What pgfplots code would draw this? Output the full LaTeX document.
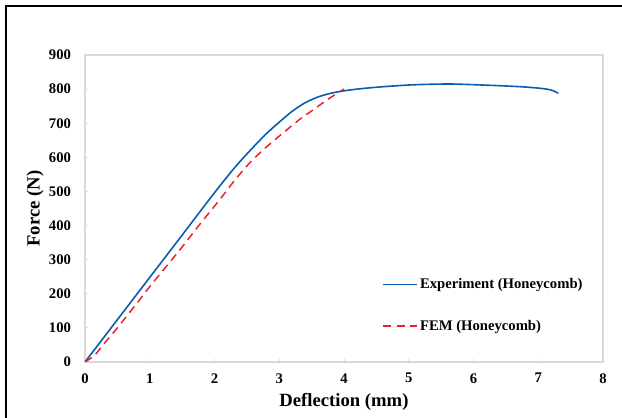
\documentclass[border=0pt]{standalone}
\usepackage{pgfplots}
\pgfplotsset{compat=1.18}
\usepackage{fontspec}
\setmainfont{Liberation Serif}
\definecolor{expblue}{RGB}{10,92,175}
\definecolor{femred}{RGB}{235,30,40}
\definecolor{axgray}{RGB}{217,217,217}
\begin{document}
\begin{tikzpicture}
% page = 622x418 px at 0.75pt per px, plot area corner at (0,0)
\useasboundingbox (-63.75pt,-42pt) rectangle (402.75pt,271.5pt);
\draw[line width=1.1pt] (-59.25pt,-50pt) -- (-59.25pt,267pt) -- (420pt,267pt);
\begin{axis}[
    at={(0,0)}, anchor=south west,
    scale only axis,
    width=388.5pt, height=230.25pt,
    xmin=0, xmax=8, ymin=0, ymax=900,
    xtick={0,1,...,8}, ytick={0,100,...,900},
    axis line style={axgray, line width=1.5pt},
    tick style={axgray, line width=0.6pt},
    tick align=inside, major tick length=2.5pt,
    xtick pos=bottom, ytick pos=left,
    ticklabel style={font=\fontsize{11}{13}\selectfont\bfseries},
    /pgf/number format/assume math mode=true,
    yticklabel style={xshift=-7pt},
    xticklabel style={yshift=-5pt},
    xlabel={\textbf{Deflection (mm)}},
    ylabel={\textbf{Force (N)}},
    label style={font=\fontsize{14}{16}\selectfont},
    xlabel style={at={(axis description cs:0.5,-0.13)}, anchor=center},
    ylabel style={at={(axis description cs:-0.0965,0.5)}, anchor=center},
    legend style={draw=none, fill=none, at={(axis description cs:0.566,0.29)},
        anchor=north west, row sep=18pt,
        font=\fontsize{11}{13}\selectfont\bfseries},
    legend cell align=left,
    legend image code/.code={\draw[#1] (0pt,0pt) -- (25pt,0pt);},
]
\addplot[expblue, line width=1.2pt, smooth, tension=0.5] coordinates {
(0,0) (0.5,124) (1.0,248) (1.5,372) (1.95,484) (2.29,565) (2.55,620)
(2.8,669) (3.0,703) (3.2,735) (3.4,760) (3.6,777) (3.8,788)
(4.0,795) (4.25,801) (4.6,807) (5.0,812) (5.3,814) (5.64,815)
(6.0,813) (6.4,810) (6.73,807) (7.0,803) (7.13,800) (7.22,796)
(7.31,788)
};
\addlegendentry{Experiment (Honeycomb)}
\addplot[femred, line width=1.1pt, dash pattern=on 6pt off 4pt, smooth, tension=0.5] coordinates {
(0,0) (0.15,20) (0.3,55) (0.5,100) (0.8,172) (1.0,221) (1.22,272)
(1.47,330) (1.8,410) (2.09,478) (2.3,530) (2.55,585) (2.8,630)
(3.05,670) (3.32,712) (3.53,740) (3.75,770) (4.0,800)
};
\addlegendentry{FEM (Honeycomb)}
\end{axis}
\end{tikzpicture}
\end{document}
